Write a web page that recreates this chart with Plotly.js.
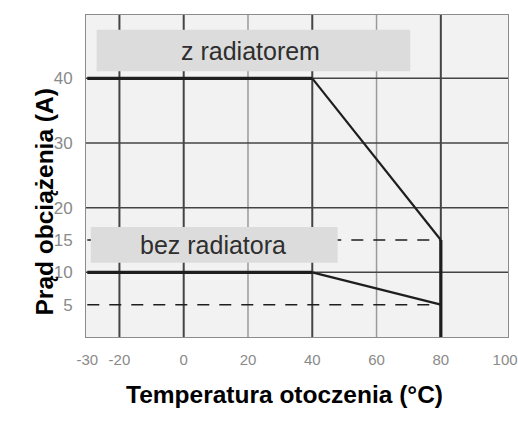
<!DOCTYPE html>
<html>
<head>
<meta charset="utf-8">
<script src="https://cdn.plot.ly/plotly-3.0.1.min.js"></script>
<style>html,body{margin:0;padding:0;background:#fff;}#chart{width:518px;height:423px;}</style>
</head>
<body>
<div id="chart"></div>
<script>
// ---- data ----
var withRadX = [-30, 40, 80];
var withRadY = [40, 40, 15];
var noRadX = [-30, 40, 80];
var noRadY = [10, 10, 5];
var cutoffX = [80, 80];
var cutoffY = [15, 0];
var dashedLevels = [15, 5];
var dashedFromX = -30;
var dashedToX = 80;
var xTickVals = [-30, -20, 0, 20, 40, 60, 80, 100];
var xTickText = ['-30', '-20', '0', '20', '40', '60', '80', '100'];
var yTickVals = [5, 10, 15, 20, 30, 40];
var yTickText = ['5', '10', '15', '20', '30', '40'];
var gridXDark = [-20, 0, 40, 80];
var gridXLight = [20, 60];
var gridY = [10, 20, 30, 40];
var labels = ['z radiatorem', 'bez radiatora'];
var labelX = [20.7, 9.2];
var labelY = [44.3, 14.2];
var boxX0 = [-27.1, -28.9], boxX1 = [70.5, 47.9];
var boxY0 = [41.1, 11.5], boxY1 = [47.5, 17.0];
var xTitle = 'Temperatura otoczenia (°C)';
var yTitle = 'Prąd obciążenia (A)';

var LINE = '#1e1e1e';
var shapes = [];
gridXDark.forEach(function (v) {
  shapes.push({type: 'line', xref: 'x', yref: 'paper', x0: v, x1: v, y0: 0, y1: 1, layer: 'below', line: {color: '#444', width: 2}});
});
gridXLight.forEach(function (v) {
  shapes.push({type: 'line', xref: 'x', yref: 'paper', x0: v, x1: v, y0: 0, y1: 1, layer: 'below', line: {color: '#9a9a9a', width: 1.5}});
});
gridY.forEach(function (v) {
  shapes.push({type: 'line', xref: 'paper', yref: 'y', x0: 0, x1: 1, y0: v, y1: v, layer: 'below', line: {color: '#444', width: 1.5}});
});
for (var i = 0; i < labels.length; i++) {
  shapes.push({type: 'rect', xref: 'x', yref: 'y', x0: boxX0[i], x1: boxX1[i], y0: boxY0[i], y1: boxY1[i], fillcolor: '#dcdcdc', line: {width: 0}, layer: 'above'});
}

var traces = [];
dashedLevels.forEach(function (lv) {
  traces.push({x: [dashedFromX, dashedToX], y: [lv, lv], mode: 'lines', line: {color: LINE, width: 1.5, dash: '12px,10px'}, hoverinfo: 'skip'});
});
[[withRadX, withRadY], [noRadX, noRadY]].forEach(function (s) {
  traces.push({x: s[0].slice(0, 2), y: s[1].slice(0, 2), mode: 'lines', line: {color: LINE, width: 3.2}, hoverinfo: 'skip'});
  traces.push({x: s[0].slice(1), y: s[1].slice(1), mode: 'lines', line: {color: LINE, width: 2.2}, hoverinfo: 'skip'});
});
traces.push({x: cutoffX, y: cutoffY, mode: 'lines', line: {color: LINE, width: 3.2}, hoverinfo: 'skip'});

var annotations = [];
for (var j = 0; j < labels.length; j++) {
  annotations.push({x: labelX[j], y: labelY[j], xref: 'x', yref: 'y', text: labels[j], showarrow: false,
    font: {family: 'Liberation Sans, Arial, sans-serif', size: 25, color: '#2e2e2e'}});
}
annotations.push({x: 284, y: 410, text: '<b>' + xTitle + '</b>', showarrow: false,
  font: {family: 'Liberation Sans, Arial, sans-serif', size: 24.5, color: '#000'}});
annotations.push({x: 28, y: 202, text: '<b>' + yTitle + '</b>', showarrow: false, textangle: -90,
  font: {family: 'Liberation Sans, Arial, sans-serif', size: 24.5, color: '#000'}});
// convert pixel-positioned title annotations to paper coords
var W = 518, H = 423, mL = 86, mR = 10, mT = 15, mB = 86;
var pw = W - mL - mR, ph = H - mT - mB;
annotations[2].xref = 'paper'; annotations[2].yref = 'paper';
annotations[2].x = (284 - mL) / pw; annotations[2].y = (H - mB - 410) / ph;
annotations[3].xref = 'paper'; annotations[3].yref = 'paper';
annotations[3].x = (28 - mL) / pw; annotations[3].y = (H - mB - 202) / ph;

var layout = {
  width: W, height: H,
  margin: {l: mL, r: mR, t: mT, b: mB},
  paper_bgcolor: '#ffffff', plot_bgcolor: '#f2f2f2',
  showlegend: false,
  xaxis: {range: [-30.4, 100.9], tickvals: xTickVals, ticktext: xTickText, showgrid: false, zeroline: false,
    showline: true, mirror: true, linecolor: '#8c8c8c', linewidth: 1, ticks: '', ticklabelstandoff: 9,
    tickfont: {family: 'Liberation Sans, Arial, sans-serif', size: 15, color: '#8a8a8a'}},
  yaxis: {range: [0, 49.8], tickvals: yTickVals, ticktext: yTickText, showgrid: false, zeroline: false,
    showline: true, mirror: true, linecolor: '#8c8c8c', linewidth: 1, ticks: '', ticklabelstandoff: 9,
    tickfont: {family: 'Liberation Sans, Arial, sans-serif', size: 17, color: '#8a8a8a'}},
  shapes: shapes,
  annotations: annotations
};
Plotly.newPlot('chart', traces, layout, {displayModeBar: false, staticPlot: true});
</script>
</body>
</html>
